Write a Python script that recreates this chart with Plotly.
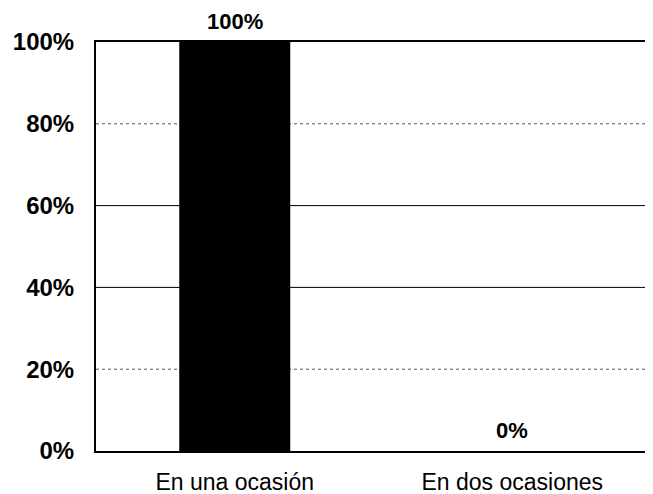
import plotly.graph_objects as go

categories = ["En una ocasión", "En dos ocasiones"]
values = [100, 0]
value_labels = ["100%", "0%"]
y_ticks = [0, 20, 40, 60, 80, 100]
y_tick_labels = ["0%", "20%", "40%", "60%", "80%", "100%"]
solid_grid = [40, 60]
dotted_grid = [20, 80]

FONT = "Liberation Sans, Arial"

fig = go.Figure()
fig.add_trace(go.Bar(
    x=categories, y=values,
    marker=dict(color="black", line=dict(width=0)),
    width=0.4, showlegend=False, hoverinfo="skip",
))

annotations = []
for c, v, t in zip(categories, values, value_labels):
    annotations.append(dict(x=c, y=v, xref="x", yref="y", text=t, showarrow=False,
                            yanchor="bottom", yshift=7, borderpad=0,
                            font=dict(family=FONT, size=22, color="black", weight="bold")))

shapes = []
for g in solid_grid:
    shapes.append(dict(type="line", xref="paper", x0=0, x1=1, yref="y", y0=g, y1=g,
                       line=dict(color="black", width=1), layer="below"))
for g in dotted_grid:
    shapes.append(dict(type="line", xref="paper", x0=0, x1=1, yref="y", y0=g, y1=g,
                       line=dict(color="#555555", width=1, dash="dot"), layer="below"))

fig.update_layout(
    width=645, height=486,
    margin=dict(l=88, r=2, t=34, b=43, autoexpand=False),
    paper_bgcolor="white", plot_bgcolor="white",
    shapes=shapes, annotations=annotations,
    font=dict(family=FONT, color="black"),
)
fig.update_yaxes(
    range=[0, 100], tickvals=y_ticks, ticktext=y_tick_labels,
    showgrid=False, zeroline=False, automargin=False,
    showline=True, linecolor="black", linewidth=2, mirror=True,
    ticks="", ticklabelstandoff=15,
    tickfont=dict(size=24, weight="bold", color="black"),
)
fig.update_xaxes(
    showgrid=False, showline=True, linecolor="black", linewidth=2, mirror=True,
    ticks="", ticklabelstandoff=9, automargin=False,
    tickfont=dict(size=23, color="black"),
)
fig.write_html("out.html")
